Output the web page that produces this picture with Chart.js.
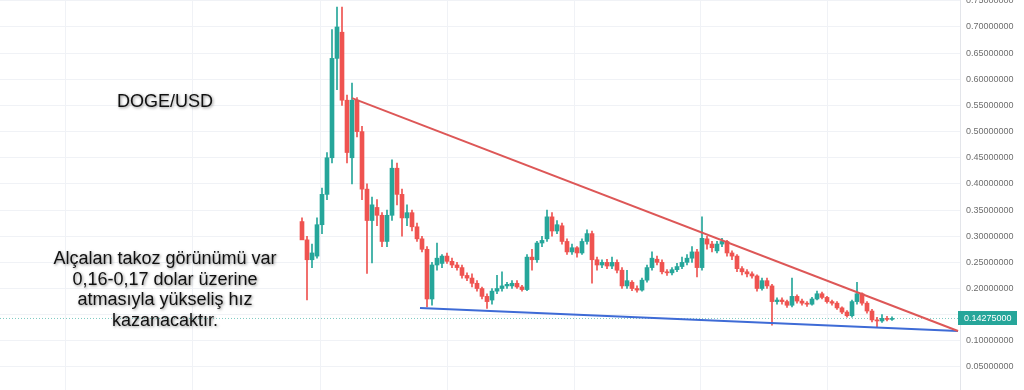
<!DOCTYPE html>
<html><head><meta charset="utf-8">
<script src="https://cdn.jsdelivr.net/npm/chart.js@4/dist/chart.umd.min.js"></script>
<style>
html,body{margin:0;padding:0;background:#fff;overflow:hidden;}
#wrap{position:relative;width:1024px;height:390px;}
#box{position:absolute;left:0;top:0;width:1024px;height:390px;}
.note{position:absolute;font-family:"Liberation Sans",Arial,sans-serif;font-size:18px;color:#111;text-align:center;text-shadow:1px 1px 3px rgba(0,0,0,0.45);line-height:20.5px;white-space:nowrap;}
</style></head><body>
<div id="wrap">
<div id="box"><canvas id="c"></canvas></div>
<div class="note" style="left:65px;top:91px;width:200px;">DOGE/USD</div>
<div class="note" style="left:15px;top:248px;width:300px;">Alçalan takoz görünümü var<br>0,16-0,17 dolar üzerine<br>atmasıyla yükseliş hız<br>kazanacaktır.</div>
</div>
<script>
// ---- data ----
const candleOpen  = [0.328,0.293,0.255,0.262,0.322,0.380,0.450,0.640,0.690,0.560,0.450,0.560,0.500,0.390,0.330,0.355,0.340,0.290,0.340,0.430,0.380,0.335,0.345,0.318,0.295,0.275,0.180,0.245,0.248,0.262,0.252,0.245,0.240,0.225,0.220,0.210,0.200,0.185,0.178,0.195,0.200,0.205,0.205,0.210,0.203,0.198,0.260,0.255,0.287,0.295,0.337,0.310,0.320,0.290,0.270,0.278,0.268,0.290,0.305,0.255,0.245,0.250,0.243,0.250,0.235,0.205,0.212,0.200,0.197,0.216,0.240,0.256,0.250,0.232,0.230,0.236,0.242,0.250,0.258,0.270,0.240,0.295,0.285,0.272,0.285,0.290,0.268,0.262,0.238,0.232,0.228,0.224,0.200,0.215,0.205,0.175,0.178,0.175,0.168,0.185,0.176,0.172,0.170,0.180,0.190,0.183,0.175,0.172,0.163,0.155,0.148,0.175,0.190,0.172,0.157,0.140,0.138,0.143,0.141];
const candleHigh  = [0.335,0.300,0.285,0.335,0.392,0.460,0.695,0.738,0.738,0.570,0.593,0.565,0.510,0.400,0.375,0.370,0.345,0.350,0.446,0.440,0.390,0.360,0.350,0.325,0.300,0.280,0.250,0.287,0.265,0.268,0.258,0.250,0.245,0.230,0.228,0.215,0.203,0.190,0.200,0.225,0.232,0.212,0.215,0.215,0.206,0.265,0.275,0.290,0.300,0.350,0.345,0.330,0.325,0.295,0.285,0.280,0.295,0.312,0.310,0.260,0.255,0.256,0.260,0.255,0.240,0.235,0.215,0.205,0.220,0.245,0.270,0.262,0.255,0.236,0.240,0.248,0.260,0.265,0.280,0.275,0.337,0.300,0.290,0.290,0.296,0.292,0.272,0.265,0.242,0.236,0.232,0.226,0.220,0.220,0.208,0.182,0.182,0.178,0.220,0.188,0.180,0.175,0.183,0.195,0.193,0.185,0.178,0.175,0.165,0.158,0.178,0.212,0.192,0.175,0.160,0.145,0.150,0.147,0.146];
const candleLow   = [0.295,0.178,0.240,0.258,0.305,0.370,0.440,0.580,0.550,0.440,0.400,0.490,0.370,0.229,0.249,0.320,0.280,0.280,0.330,0.360,0.300,0.320,0.310,0.290,0.270,0.165,0.168,0.235,0.240,0.248,0.240,0.235,0.220,0.215,0.203,0.195,0.180,0.162,0.170,0.190,0.195,0.200,0.200,0.200,0.195,0.196,0.235,0.250,0.280,0.290,0.300,0.305,0.285,0.265,0.265,0.260,0.265,0.285,0.210,0.235,0.240,0.238,0.238,0.230,0.200,0.200,0.196,0.193,0.195,0.212,0.235,0.245,0.228,0.225,0.226,0.232,0.238,0.245,0.250,0.222,0.235,0.275,0.270,0.268,0.280,0.262,0.255,0.232,0.226,0.222,0.220,0.195,0.197,0.200,0.130,0.170,0.170,0.164,0.165,0.172,0.168,0.166,0.168,0.178,0.180,0.172,0.168,0.160,0.152,0.145,0.145,0.170,0.168,0.153,0.136,0.125,0.135,0.138,0.139];
const candleClose = [0.293,0.255,0.268,0.322,0.380,0.450,0.640,0.700,0.560,0.460,0.560,0.500,0.390,0.330,0.360,0.340,0.290,0.340,0.430,0.380,0.335,0.345,0.318,0.295,0.275,0.180,0.245,0.258,0.262,0.252,0.245,0.240,0.225,0.220,0.210,0.200,0.185,0.175,0.195,0.200,0.205,0.208,0.210,0.203,0.198,0.260,0.255,0.287,0.292,0.337,0.310,0.322,0.290,0.270,0.278,0.268,0.290,0.305,0.255,0.245,0.250,0.243,0.250,0.235,0.205,0.215,0.200,0.197,0.216,0.240,0.258,0.250,0.232,0.230,0.236,0.242,0.250,0.258,0.270,0.240,0.296,0.285,0.278,0.285,0.290,0.268,0.262,0.238,0.232,0.228,0.224,0.200,0.215,0.205,0.175,0.178,0.175,0.168,0.185,0.176,0.172,0.170,0.180,0.190,0.183,0.175,0.172,0.163,0.155,0.148,0.175,0.190,0.172,0.157,0.140,0.138,0.143,0.141,0.14275];
const resistanceX = [10, 131.2];
const resistanceY = [0.564, 0.1187];
const supportX = [23.6, 131.2];
const supportY = [0.1627, 0.1187];
const lastPrice = 0.14275;
const yTicks = [0.05,0.10,0.15,0.20,0.25,0.30,0.35,0.40,0.45,0.50,0.55,0.60,0.65,0.70,0.75];
const xGrid = [-47.2,-21.8,3.6,29,54.4,79.8,105.2];

// ---- chart ----
const UP='#26a69a', DOWN='#ef5350';
const colorAt = i => candleClose[i] >= candleOpen[i] ? UP : DOWN;
const idx = candleOpen.map((_, i) => i);
const wickData = idx.map(i => ({x:i, y:[candleLow[i], candleHigh[i]]}));
const bodyData = idx.map(i => ({x:i, y:[candleOpen[i], candleClose[i]]}));
const XMIN = -60.4, XMAX = 131.6;

const priceLabel = {
  id:'priceLabel',
  afterDraw(chart){
    const c = chart.ctx, ys = chart.scales.y, a = chart.chartArea;
    const y = ys.getPixelForValue(lastPrice);
    c.save();
    c.fillStyle = UP;
    c.fillRect(a.right - 2, Math.round(y) - 7, 59, 14);
    c.fillStyle = '#fff';
    c.font = '9px "Liberation Sans", Arial, sans-serif';
    c.textBaseline = 'middle';
    c.fillText(lastPrice.toFixed(8), a.right + 4, y + 0.5);
    c.restore();
  }
};

new Chart(document.getElementById('c'), {
  type:'bar',
  data:{datasets:[
    {type:'line', data:[{x:XMIN,y:lastPrice},{x:XMAX,y:lastPrice}], borderColor:'rgba(38,166,154,0.6)', borderWidth:1, borderDash:[1,2], pointRadius:0, order:6},
    {data:wickData, backgroundColor:c=>colorAt(c.dataIndex), barThickness:1, grouped:false, order:3},
    {data:bodyData, backgroundColor:c=>colorAt(c.dataIndex), barThickness:4, grouped:false, minBarLength:1, order:2},
    {type:'line', data:resistanceX.map((x,i)=>({x, y:resistanceY[i]})), borderColor:'#dd5757', borderWidth:2, pointRadius:0, order:0},
    {type:'line', data:supportX.map((x,i)=>({x, y:supportY[i]})), borderColor:'#3e6bd6', borderWidth:2, pointRadius:0, order:0}
  ]},
  options:{
    responsive:true, maintainAspectRatio:false, animation:false,
    layout:{padding:0},
    plugins:{legend:{display:false}, tooltip:{enabled:false}},
    scales:{
      x:{type:'linear', min:XMIN, max:XMAX, offset:false,
         ticks:{display:false}, border:{display:false},
         grid:{color:'#f0f2f6', drawTicks:false, offset:false},
         afterBuildTicks:s=>{s.ticks = xGrid.map(v=>({value:v}));},
         afterFit:s=>{s.height=0;}},
      y:{position:'right', min:0.006, max:0.7516,
         border:{display:true, color:'#e3e5ea'},
         grid:{color:'#f0f2f6', drawTicks:false},
         ticks:{padding:6, color:'#6e6e6e', font:{family:'"Liberation Sans", Arial, sans-serif', size:9}, callback:v=>v.toFixed(8)},
         afterBuildTicks:s=>{s.ticks = yTicks.map(v=>({value:v}));},
         afterFit:s=>{s.width=64; s.paddingTop=0; s.paddingBottom=0;}}
    }
  },
  plugins:[priceLabel]
});
</script>
</body></html>
